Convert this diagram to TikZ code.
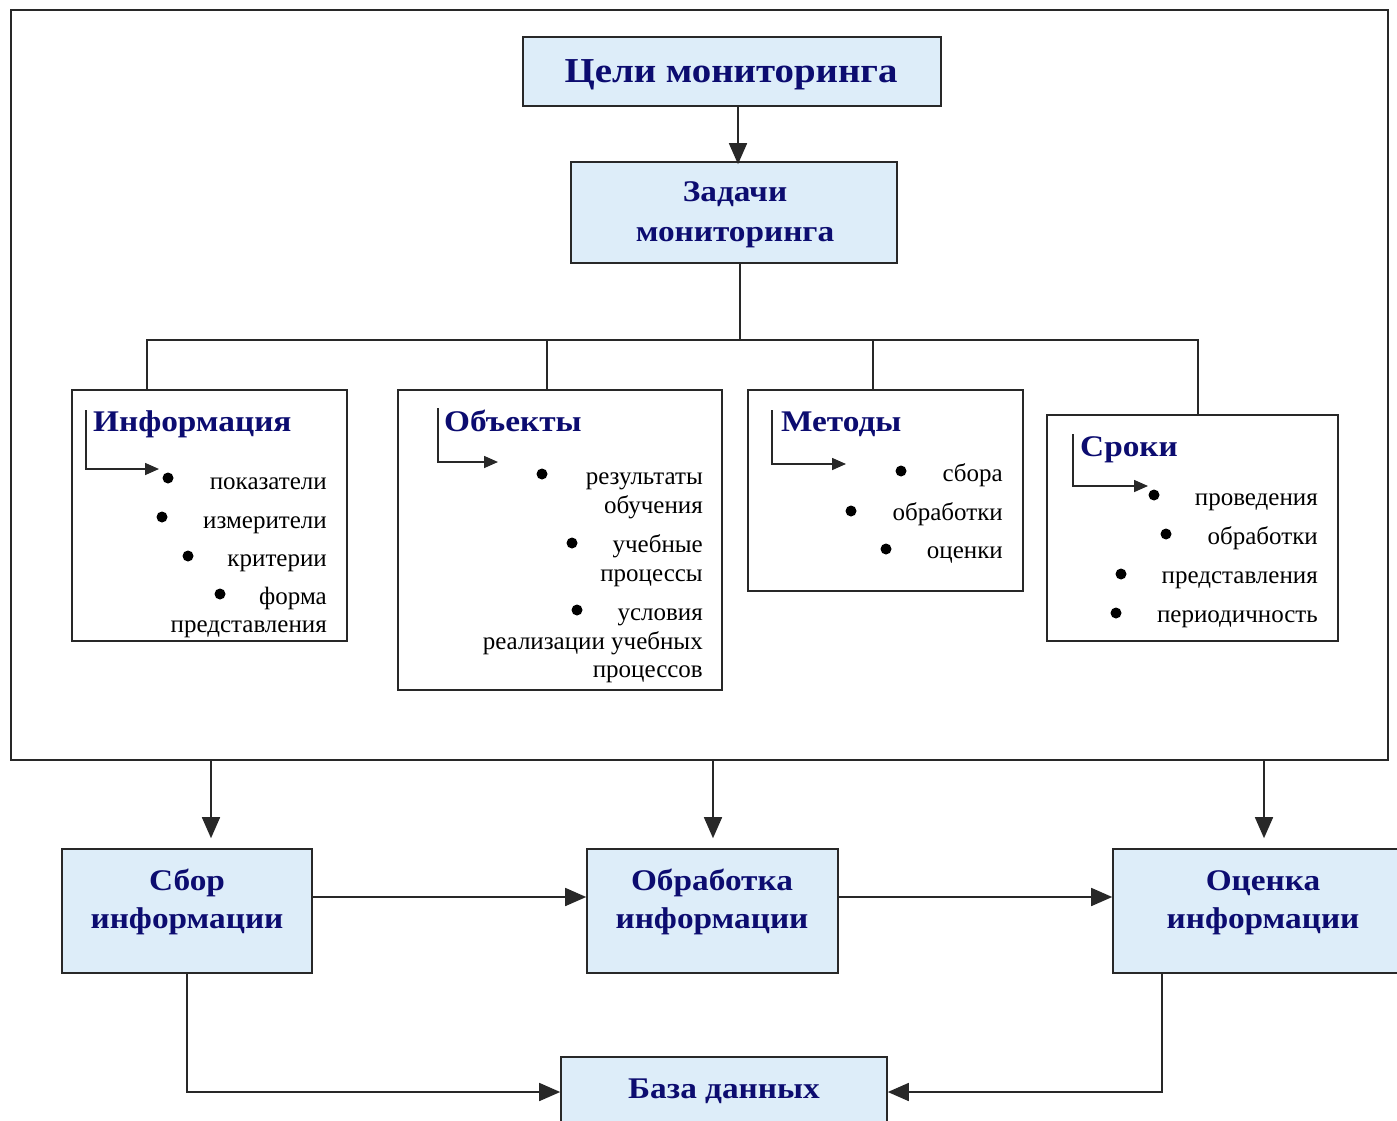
\documentclass[tikz,border=0pt]{standalone}
\usepackage{fontspec}
\setmainfont{Liberation Serif}
\newfontfamily\titlefont[FakeStretch=1.11]{Liberation Serif}
\usetikzlibrary{arrows.meta}
\definecolor{navy}{RGB}{12,12,112}
\definecolor{boxfill}{RGB}{221,237,249}
\definecolor{linec}{RGB}{40,40,40}
\begin{document}
\begin{tikzpicture}[x=1pt,y=-1pt,
  line/.style={draw=linec, line width=1.6pt},
  whitebox/.style={line, fill=white, inner sep=0pt},
  bluebox/.style={line, fill=boxfill, inner sep=0pt},
  bigarrow/.style={line, -{Triangle[length=21pt,width=18pt]}},
  smallarrow/.style={line, -{Triangle[length=14pt,width=12pt]}},
  bigtitle/.style={font=\titlefont\bfseries\fontsize{35}{40}\selectfont, text=navy, inner sep=0pt, anchor=base},
  boxtitle/.style={font=\titlefont\bfseries\fontsize{30}{34}\selectfont, text=navy, inner sep=0pt, anchor=base},
  subtitle/.style={font=\titlefont\bfseries\fontsize{30}{34}\selectfont, text=navy, inner sep=0pt, anchor=base west},
  item/.style={font=\fontsize{25}{28}\selectfont, inner sep=0pt, anchor=base east},
  dot/.style={circle, fill=black, inner sep=0pt, minimum size=11pt}]
\useasboundingbox (0,0) rectangle (1397,1121);
\fill[white] (0,0) rectangle (1397,1121);
% outer frame
\draw[line] (11,10) rectangle (1388,760);
\coordinate (fl) at (211,760);
\coordinate (fm) at (713,760);
\coordinate (fr) at (1264,760);

% top boxes
\node[bluebox, minimum width=418pt, minimum height=69pt] (goals) at (732,71.5) {};
\node[bigtitle] (goalsT) at (731,83) {Цели мониторинга};
\node[bluebox, minimum width=326pt, minimum height=101pt] (tasks) at (734,212.5) {};
\node[boxtitle] (tasksT1) at (735,201) {Задачи};
\node[boxtitle] (tasksT2) at (735,241) {мониторинга};
\draw[bigarrow] (goals.south -| 738,0) -- ([yshift=-3pt]tasks.north -| 738,0);

% branch boxes
\node[whitebox, minimum width=275pt, minimum height=251pt] (info) at (209.5,515.5) {};
\node[whitebox, minimum width=324pt, minimum height=300pt] (obj) at (560,540) {};
\node[whitebox, minimum width=275pt, minimum height=201pt] (meth) at (885.5,490.5) {};
\node[whitebox, minimum width=291pt, minimum height=226pt] (term) at (1192.5,528) {};

\coordinate (hub) at (740,340);
\draw[line] (tasks.south -| hub) -- (hub);
\draw[line] (info.north -| 147,0) -- (147,340) -- (1198,340) -- (term.north -| 1198,0);
\draw[line] (obj.north -| 547,0) -- (547,340);
\draw[line] (meth.north -| 873,0) -- (873,340);

% Информация
\node[subtitle] (infoT) at (93,431) {Информация};
\coordinate (ia) at (86,410);
\draw[smallarrow] (ia) -- (86,469) -- (159,469);
\node[dot] (id1) at (168,478) {};
\node[dot] (id2) at (162,517) {};
\node[dot] (id3) at (188,556) {};
\node[dot] (id4) at (220,594) {};
\node[item] (i1) at (327,489) {показатели};
\node[item] (i2) at (327,528) {измерители};
\node[item] (i3) at (327,566) {критерии};
\node[item] (i4) at (327,604) {форма};
\node[item] (i5) at (327,632) {представления};

% Объекты
\node[subtitle] (objT) at (444,431) {Объекты};
\coordinate (oa) at (438,408);
\draw[smallarrow] (oa) -- (438,462) -- (498,462);
\node[dot] (od1) at (542,474) {};
\node[dot] (od2) at (572,543) {};
\node[dot] (od3) at (577,610) {};
\node[item] (o1) at (703,484) {результаты};
\node[item] (o2) at (703,513) {обучения};
\node[item] (o3) at (703,552) {учебные};
\node[item] (o4) at (703,581) {процессы};
\node[item] (o5) at (703,620) {условия};
\node[item] (o6) at (703,649) {реализации учебных};
\node[item] (o7) at (703,677) {процессов};

% Методы
\node[subtitle] (methT) at (781,431) {Методы};
\coordinate (ma) at (772,410);
\draw[smallarrow] (ma) -- (772,464) -- (846,464);
\node[dot] (md1) at (901,471) {};
\node[dot] (md2) at (851,511) {};
\node[dot] (md3) at (886,549) {};
\node[item] (m1) at (1003,481) {сбора};
\node[item] (m2) at (1003,520) {обработки};
\node[item] (m3) at (1003,558) {оценки};

% Сроки
\node[subtitle] (termT) at (1080,456) {Сроки};
\coordinate (ta) at (1073,434);
\draw[smallarrow] (ta) -- (1073,486) -- (1148,486);
\node[dot] (td1) at (1154,495) {};
\node[dot] (td2) at (1166,534) {};
\node[dot] (td3) at (1121,574) {};
\node[dot] (td4) at (1116,613) {};
\node[item] (t1) at (1318,505) {проведения};
\node[item] (t2) at (1318,544) {обработки};
\node[item] (t3) at (1318,583) {представления};
\node[item] (t4) at (1318,622) {периодичность};

% bottom row
\node[bluebox, minimum width=250pt, minimum height=124pt] (collect) at (187,911) {};
\node[boxtitle] (collectT1) at (187,890) {Сбор};
\node[boxtitle] (collectT2) at (187,928) {информации};
\node[bluebox, minimum width=251pt, minimum height=124pt] (proc) at (712.5,911) {};
\node[boxtitle] (procT1) at (712,890) {Обработка};
\node[boxtitle] (procT2) at (712,928) {информации};
\node[bluebox, minimum width=300pt, minimum height=124pt] (eval) at (1263,911) {};
\node[boxtitle] (evalT1) at (1263,890) {Оценка};
\node[boxtitle] (evalT2) at (1263,928) {информации};
\node[bluebox, minimum width=326pt, minimum height=90pt] (db) at (724,1102) {};
\node[boxtitle] (dbT) at (724,1098) {База данных};

\draw[bigarrow, shorten >=10pt] (fl) -- (collect.north -| fl);
\draw[bigarrow, shorten >=10pt] (fm) -- (proc.north -| fm);
\draw[bigarrow, shorten >=10pt] (fr) -- (eval.north -| fr);
\draw[bigarrow] (collect.east |- 0,897) -- (proc.west |- 0,897);
\draw[bigarrow] (proc.east |- 0,897) -- (eval.west |- 0,897);
\draw[bigarrow] (collect.south) -- (187,1092) -- (db.west |- 0,1092);
\draw[bigarrow] (eval.south -| 1162,0) -- (1162,1092) -- (db.east |- 0,1092);
\end{tikzpicture}
\end{document}
